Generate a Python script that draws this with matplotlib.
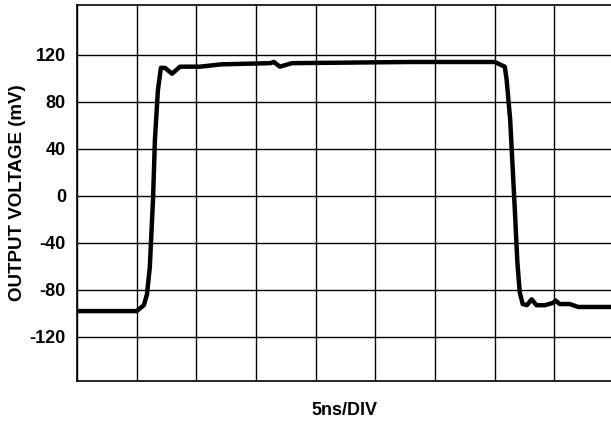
import matplotlib
matplotlib.use("Agg")
import matplotlib.pyplot as plt
import numpy as np

# time (ns) and output voltage (mV)
time_ns = [0.0, 5.0, 5.6, 5.86, 6.1, 6.37, 6.53, 6.78, 7.03, 7.37, 7.96, 8.63,
           10.3, 12.1, 16.2, 16.5, 17.0, 18.0, 28.0, 33.75, 35.0, 35.85, 36.0,
           36.3, 36.7, 36.9, 37.1, 37.35, 37.7, 38.1, 38.5, 39.2, 39.9, 40.1,
           40.45, 41.3, 42.0, 45.0]
voltage_mv = [-98, -98, -93, -84, -61, -3, 48, 90, 109, 109, 104, 110,
              110, 112, 113, 114, 110, 113, 114, 114, 114, 110, 99,
              65, -14, -56, -82, -92, -93, -88, -93, -93, -91, -89,
              -92, -92, -94.5, -94.5]

y_ticks = [-120, -80, -40, 0, 40, 80, 120]
x_grid = np.arange(0, 46, 5)

plt.rcParams['font.family'] = ['Liberation Sans', 'DejaVu Sans']

fig = plt.figure(figsize=(6.11, 4.24), dpi=100)
ax = fig.add_axes([77 / 611, 43 / 424, 537 / 611, 376 / 424])

ax.plot(time_ns, voltage_mv, color='black', lw=3.2, solid_joinstyle='round', zorder=3)

ax.set_xlim(0, 45)
ax.set_ylim(-157.5, 162.5)
ax.set_xticks(x_grid)
ax.set_yticks(y_ticks)
ax.set_xticklabels([])
ax.set_yticklabels([str(t) for t in y_ticks], fontsize=13, fontweight='bold')
ax.tick_params(length=0, pad=8)
ax.grid(True, color='black', lw=1.0)

for s in ax.spines.values():
    s.set_linewidth(1.2)

ax.set_ylabel('OUTPUT VOLTAGE (mV)', fontsize=13.5, fontweight='bold')
ax.yaxis.set_label_coords(-51 / 537, 0.5)
ax.set_xlabel('5ns/DIV', fontsize=13, fontweight='bold')
ax.xaxis.set_label_coords((344 - 77) / 537, -21 / 376)

fig.savefig('out.png', dpi=100)
